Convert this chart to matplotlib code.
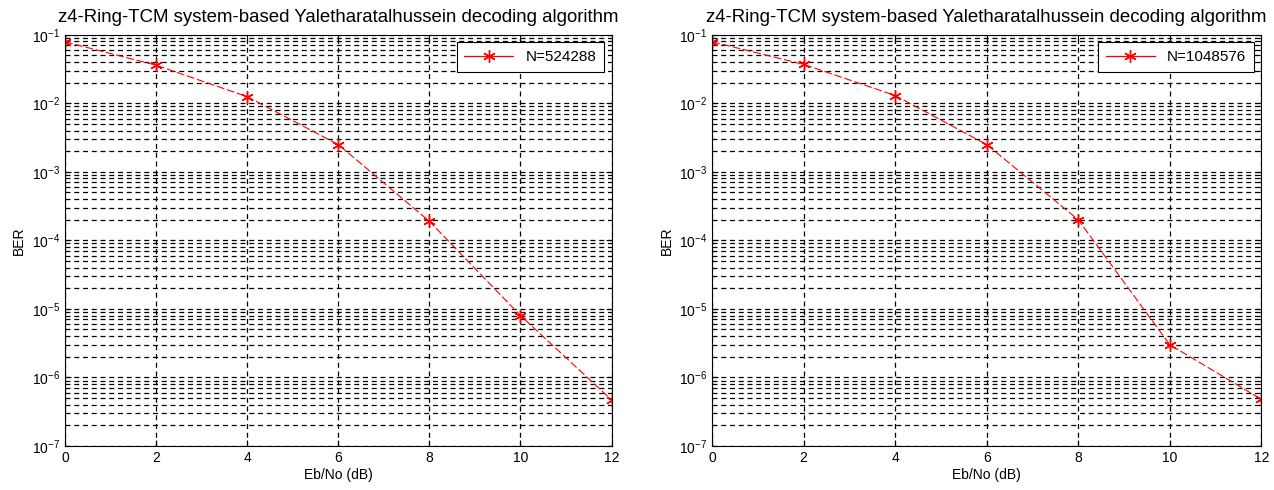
import matplotlib
matplotlib.use('Agg')

import matplotlib.pyplot as plt
from matplotlib.lines import Line2D
from matplotlib.ticker import FixedLocator, NullFormatter

plt.rcParams['font.family'] = ['Liberation Sans', 'DejaVu Sans']
plt.rcParams['mathtext.fontset'] = 'custom'
plt.rcParams['mathtext.rm'] = 'Liberation Sans'
plt.rcParams['mathtext.it'] = 'Liberation Sans'

# data
ebno = [0, 2, 4, 6, 8, 10, 12]
ber_524288 = [0.079, 0.036, 0.0125, 0.0025, 1.9e-4, 8.0e-6, 4.7e-7]
ber_1048576 = [0.079, 0.037, 0.013, 0.0025, 2.0e-4, 3.0e-6, 4.8e-7]
labels = ['N=524288', 'N=1048576']
title = 'z4-Ring-TCM system-based Yaletharatalhussein decoding algorithm'
decades = [-7, -6, -5, -4, -3, -2, -1]

fig = plt.figure(figsize=(12.74, 4.9), dpi=100, facecolor='white')
axes = [fig.add_axes([0.051, 0.09, 0.429, 0.839]),
        fig.add_axes([0.559, 0.09, 0.431, 0.839])]

asterisk = (6, 2, 0)
major_y = [10.0 ** d for d in decades]
minor_y = [m * 10.0 ** d for d in decades[:-1] for m in range(2, 10)]

for ax, ber, lab in zip(axes, [ber_524288, ber_1048576], labels):
    ax.semilogy(ebno, ber, color='red', linestyle=(0, (7, 2.5)), linewidth=0.8,
                marker=asterisk, markersize=9, markeredgewidth=1.0)
    ax.set_xlim(0, 12)
    ax.set_ylim(1e-7, 1e-1)
    ax.set_xticks(ebno)
    ax.yaxis.set_major_locator(FixedLocator(major_y))
    ax.yaxis.set_minor_locator(FixedLocator(minor_y))
    ax.yaxis.set_minor_formatter(NullFormatter())

    # matlab-ish dashed grid
    ax.grid(True, which='major', axis='both', color='black', linestyle=(0, (4, 3)), linewidth=0.9)
    ax.grid(True, which='minor', axis='y', color='black', linestyle=(0, (4, 3)), linewidth=0.9)

    ax.tick_params(which='both', direction='in', top=True, right=True, labelsize=10)
    ax.tick_params(which='major', length=4)
    ax.tick_params(which='minor', length=2)
    for sp in ax.spines.values():
        sp.set_linewidth(0.8)

    ax.set_title(title, fontsize=13.4, pad=9)
    ax.set_xlabel('Eb/No (dB)', fontsize=10, labelpad=2)
    ax.set_ylabel('BER', fontsize=10)
    handle = Line2D([], [], color='red', linewidth=0.9, marker=asterisk,
                    markersize=9, markeredgewidth=1.0)
    leg = ax.legend([handle], [lab], loc='upper right', fontsize=11, fancybox=False,
                    framealpha=1, edgecolor='black', handlelength=3.2,
                    borderaxespad=0.5, borderpad=0.5)
    leg.get_frame().set_linewidth(0.8)

fig.savefig('out.png', dpi=100, facecolor='white')
